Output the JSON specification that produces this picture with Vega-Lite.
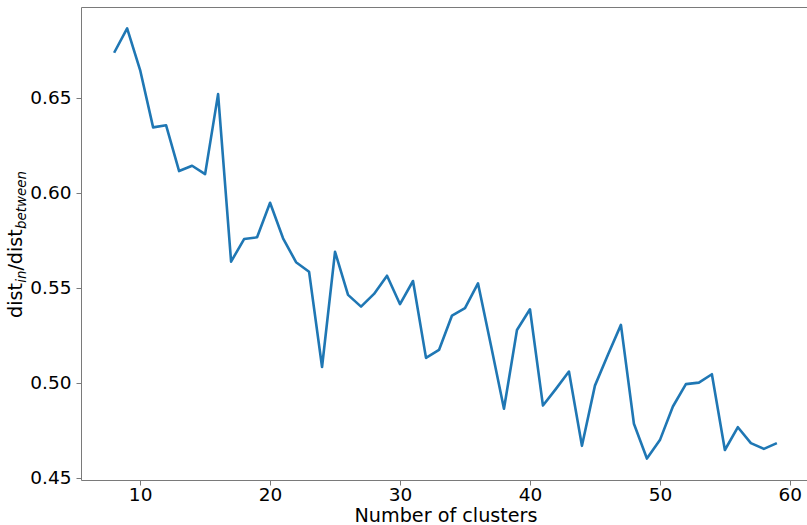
{
  "$schema": "https://vega.github.io/schema/vega-lite/v6.json",
  "width": 729,
  "height": 473,
  "autosize": {"type": "none"},
  "padding": {"left": 81, "top": 7, "right": 0, "bottom": 45},
  "background": "white",
  "config": {
    "font": "DejaVu Sans",
    "view": {"stroke": "#7a7a7a", "strokeWidth": 1},
    "axis": {
      "grid": false,
      "domain": false,
      "tickColor": "#7a7a7a",
      "tickSize": 5,
      "tickWidth": 1,
      "labelFont": "DejaVu Sans",
      "labelFontSize": 18.5,
      "labelColor": "#000000",
      "titleFont": "DejaVu Sans",
      "titleFontSize": 19.2,
      "titleFontWeight": "normal",
      "titleColor": "#000000"
    }
  },
  "datasets": {
    "clusters": [
      {"k": 8, "ratio": 0.6737},
      {"k": 9, "ratio": 0.6865},
      {"k": 10, "ratio": 0.6646},
      {"k": 11, "ratio": 0.6344},
      {"k": 12, "ratio": 0.6355},
      {"k": 13, "ratio": 0.6114},
      {"k": 14, "ratio": 0.6142},
      {"k": 15, "ratio": 0.6098},
      {"k": 16, "ratio": 0.6519},
      {"k": 17, "ratio": 0.5637},
      {"k": 18, "ratio": 0.5756},
      {"k": 19, "ratio": 0.5765},
      {"k": 20, "ratio": 0.5947},
      {"k": 21, "ratio": 0.5760},
      {"k": 22, "ratio": 0.5634},
      {"k": 23, "ratio": 0.5584},
      {"k": 24, "ratio": 0.5082},
      {"k": 25, "ratio": 0.5689},
      {"k": 26, "ratio": 0.5462},
      {"k": 27, "ratio": 0.5400},
      {"k": 28, "ratio": 0.5467},
      {"k": 29, "ratio": 0.5563},
      {"k": 30, "ratio": 0.5413},
      {"k": 31, "ratio": 0.5535},
      {"k": 32, "ratio": 0.5130},
      {"k": 33, "ratio": 0.5172},
      {"k": 34, "ratio": 0.5353},
      {"k": 35, "ratio": 0.5392},
      {"k": 36, "ratio": 0.5523},
      {"k": 37, "ratio": 0.5195},
      {"k": 38, "ratio": 0.4862},
      {"k": 39, "ratio": 0.5277},
      {"k": 40, "ratio": 0.5386},
      {"k": 41, "ratio": 0.4879},
      {"k": 42, "ratio": 0.4967},
      {"k": 43, "ratio": 0.5058},
      {"k": 44, "ratio": 0.4667},
      {"k": 45, "ratio": 0.4984},
      {"k": 46, "ratio": 0.5146},
      {"k": 47, "ratio": 0.5304},
      {"k": 48, "ratio": 0.4783},
      {"k": 49, "ratio": 0.4600},
      {"k": 50, "ratio": 0.4697},
      {"k": 51, "ratio": 0.4874},
      {"k": 52, "ratio": 0.4992},
      {"k": 53, "ratio": 0.5000},
      {"k": 54, "ratio": 0.5044},
      {"k": 55, "ratio": 0.4645},
      {"k": 56, "ratio": 0.4765},
      {"k": 57, "ratio": 0.4681},
      {"k": 58, "ratio": 0.4651},
      {"k": 59, "ratio": 0.4681}
    ]
  },
  "layer": [
    {
      "data": {"name": "clusters"},
      "mark": {"type": "line", "color": "#1f77b4", "strokeWidth": 2.6, "strokeJoin": "round"},
      "encoding": {
        "x": {
          "field": "k",
          "type": "quantitative",
          "scale": {"domain": [5.45, 61.55], "nice": false, "zero": false},
          "axis": {
            "values": [10, 20, 30, 40, 50, 60],
            "labelPadding": 0.3,
            "title": "Number of clusters",
            "titleX": 364.5,
            "titleY": 41,
            "titleAlign": "center",
            "titleBaseline": "alphabetic"
          }
        },
        "y": {
          "field": "ratio",
          "type": "quantitative",
          "scale": {"domain": [0.4487, 0.6978], "nice": false, "zero": false},
          "axis": {
            "orient": "left",
            "values": [0.45, 0.5, 0.55, 0.6, 0.65],
            "format": ".2f",
            "labelPadding": 5,
            "title": "dist",
            "titleAngle": 270,
            "titleAlign": "left",
            "titleBaseline": "alphabetic",
            "titleX": -60,
            "titleY": 310.4
          }
        }
      }
    },
    {
      "data": {"values": []},
      "mark": "point",
      "encoding": {
        "y": {
          "field": "ratio",
          "type": "quantitative",
          "scale": {"domain": [0.4487, 0.6978], "nice": false, "zero": false},
          "axis": {
            "orient": "left",
            "labels": false,
            "ticks": false,
            "title": "in",
            "titleFontSize": 13.4,
            "titleFontStyle": "italic",
            "titleAngle": 270,
            "titleAlign": "left",
            "titleBaseline": "alphabetic",
            "titleX": -55.5,
            "titleY": 275.3
          }
        }
      }
    },
    {
      "data": {"values": []},
      "mark": "point",
      "encoding": {
        "y": {
          "field": "ratio",
          "type": "quantitative",
          "scale": {"domain": [0.4487, 0.6978], "nice": false, "zero": false},
          "axis": {
            "orient": "left",
            "labels": false,
            "ticks": false,
            "title": "/dist",
            "titleAngle": 270,
            "titleAlign": "left",
            "titleBaseline": "alphabetic",
            "titleX": -60,
            "titleY": 263.1
          }
        }
      }
    },
    {
      "data": {"values": []},
      "mark": "point",
      "encoding": {
        "y": {
          "field": "ratio",
          "type": "quantitative",
          "scale": {"domain": [0.4487, 0.6978], "nice": false, "zero": false},
          "axis": {
            "orient": "left",
            "labels": false,
            "ticks": false,
            "title": "between",
            "titleFontSize": 13.4,
            "titleFontStyle": "italic",
            "titleAngle": 270,
            "titleAlign": "left",
            "titleBaseline": "alphabetic",
            "titleX": -55.5,
            "titleY": 221.5
          }
        }
      }
    }
  ],
  "resolve": {"axis": {"y": "independent"}}
}
